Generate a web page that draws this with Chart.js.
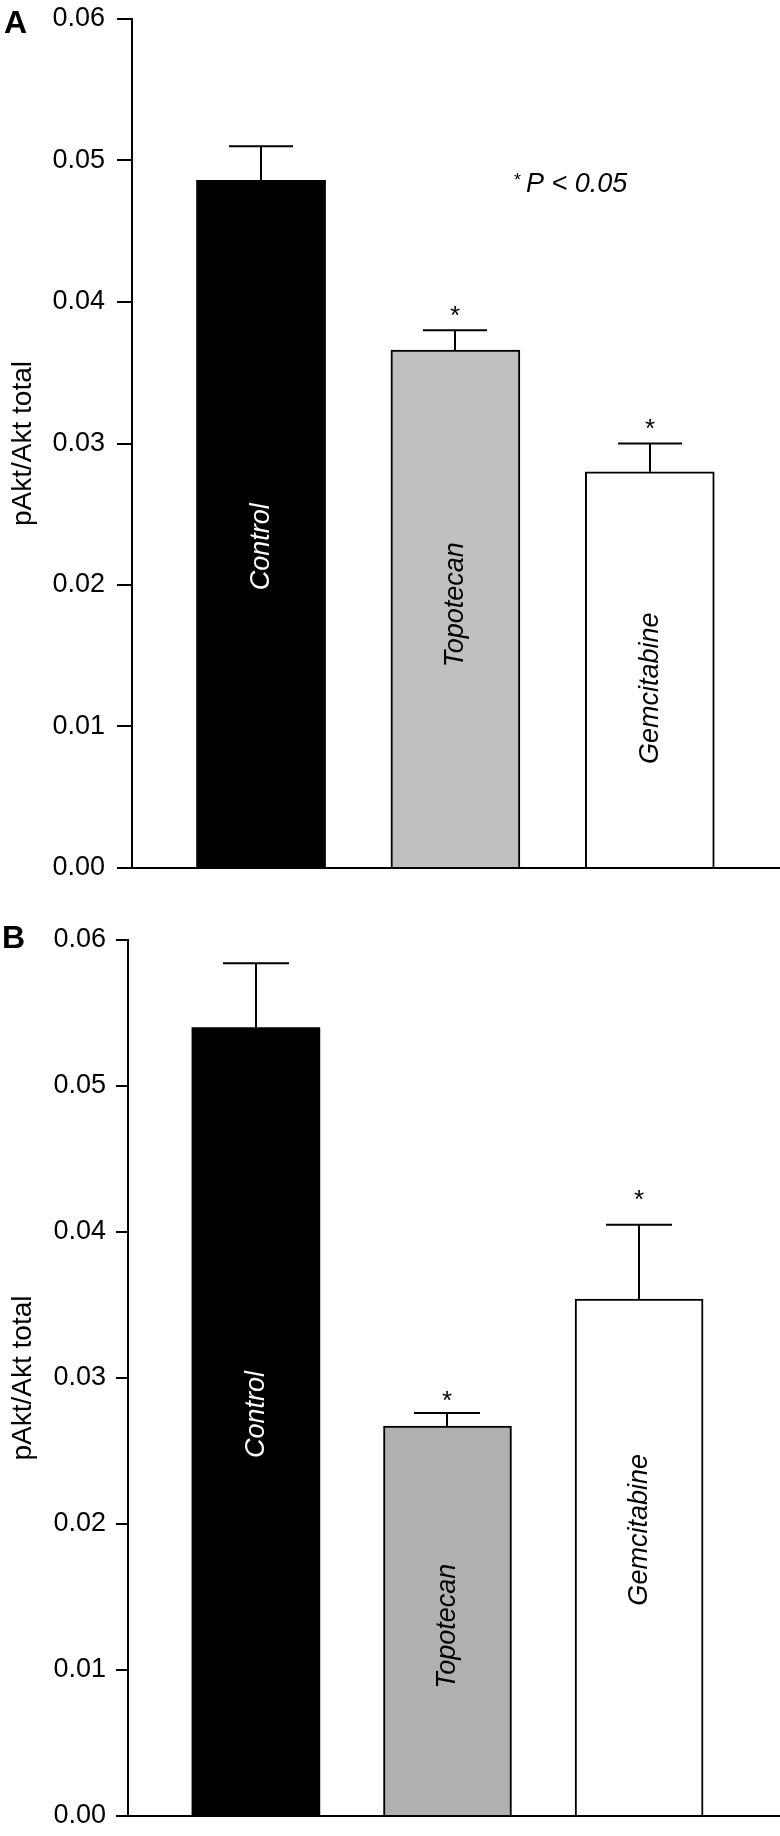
<!DOCTYPE html>
<html><head><meta charset="utf-8">
<script src="https://cdn.jsdelivr.net/npm/chart.js@4/dist/chart.umd.min.js"></script>
<style>
html,body{margin:0;padding:0;background:#fff;}
#wrapA{position:absolute;left:0;top:0;width:780px;height:900px;}
#wrapB{position:absolute;left:0;top:900px;width:780px;height:936px;}
</style></head><body>
<div id="wrapA"><canvas id="cA"></canvas></div>
<div id="wrapB"><canvas id="cB"></canvas></div>
<script>
// ---- data ----
const categories = ['Control', 'Topotecan', 'Gemcitabine'];
const tickLabels = ['0.00', '0.01', '0.02', '0.03', '0.04', '0.05', '0.06'];
const axisTitle = 'pAkt/Akt total';
const valuesA = [0.0486, 0.0366, 0.0280];
const errorsA = [0.0024, 0.0014, 0.0020];
const signifA = [false, true, true];
const valuesB = [0.0540, 0.0267, 0.0354];
const errorsB = [0.0044, 0.0009, 0.0051];
const signifB = [false, true, true];
const noteText = 'P < 0.05';

const FONT = '"Liberation Sans", Arial, Helvetica, sans-serif';

function makePanel(canvasId, p) {
  const plugin = {
    id: 'panelDecor' + canvasId,
    afterDatasetsDraw(chart) {
      const ctx = chart.ctx, xs = chart.scales.x, ys = chart.scales.y;
      ctx.save();
      p.values.forEach((v, i) => {
        const x = Math.round(xs.getPixelForValue(i + 1));
        const yb = ys.getPixelForValue(v);
        const yt = ys.getPixelForValue(v + p.errors[i]);
        ctx.strokeStyle = '#000'; ctx.lineWidth = 2;
        ctx.beginPath();
        ctx.moveTo(x, yb); ctx.lineTo(x, yt);
        ctx.moveTo(x - p.cap, yt); ctx.lineTo(x + p.cap, yt);
        ctx.stroke();
        if (p.signif[i]) {
          ctx.fillStyle = '#000';
          ctx.font = '26px ' + FONT;
          ctx.textAlign = 'center'; ctx.textBaseline = 'alphabetic';
          ctx.fillText('*', x, yt - p.starGap[i] + 14);
        }
        ctx.save();
        ctx.translate(x, ys.getPixelForValue(p.labelPos[i]));
        ctx.rotate(-Math.PI / 2);
        ctx.font = 'italic 27px ' + FONT;
        ctx.textAlign = 'center'; ctx.textBaseline = 'middle';
        ctx.fillStyle = p.labelColors[i];
        ctx.fillText(categories[i], 0, 0);
        ctx.restore();
      });
      ctx.fillStyle = '#000';
      ctx.font = 'bold 32px ' + FONT;
      ctx.textAlign = 'left'; ctx.textBaseline = 'alphabetic';
      ctx.fillText(p.letter, p.letterX, p.letterY);
      if (p.note) {
        ctx.font = '18px ' + FONT;
        ctx.fillText('*', 514, 186);
        ctx.font = 'italic 27px ' + FONT;
        ctx.fillText(noteText, 526, 192);
      }
      ctx.restore();
    }
  };
  return new Chart(document.getElementById(canvasId), {
    type: 'bar',
    data: {
      datasets: [{
        data: p.values.map((v, i) => ({ x: i + 1, y: v })),
        backgroundColor: p.colors,
        borderColor: '#000',
        borderWidth: [0, 2, 2],
        barThickness: p.barW
      }]
    },
    options: {
      responsive: true,
      maintainAspectRatio: false,
      animation: false,
      layout: { padding: { top: p.padTop, bottom: p.padBottom, left: 0, right: 0 } },
      plugins: { legend: { display: false }, tooltip: { enabled: false } },
      scales: {
        x: {
          type: 'linear', min: p.xMin, max: p.xMax, offset: false,
          ticks: { display: false },
          grid: { display: true, drawOnChartArea: false, drawTicks: false, color: 'rgba(0,0,0,0)' },
          border: { display: true, color: '#000', width: 2 },
          afterFit: s => { s.height = 0; s.paddingLeft = 0; s.paddingRight = 0; }
        },
        y: {
          min: 0, max: 0.06,
          ticks: {
            stepSize: 0.01,
            color: '#000',
            font: { family: FONT, size: 27 },
            padding: p.tickPad,
            callback: (v, i) => tickLabels[i]
          },
          grid: { drawOnChartArea: false, drawTicks: true, tickLength: p.tickLen, color: '#000', lineWidth: 2 },
          border: { display: true, color: '#000', width: 2 },
          title: {
            display: true, text: axisTitle, color: '#000',
            font: { family: FONT, size: 28 }, padding: { top: 6, bottom: 0 }
          },
          afterFit: s => { s.width = p.axisX; s.paddingTop = 0; s.paddingBottom = 0; }
        }
      }
    },
    plugins: [plugin]
  });
}

makePanel('cA', {
  values: valuesA, errors: errorsA, signif: signifA,
  colors: ['#000000', '#c0c0c0', '#ffffff'],
  labelColors: ['#ffffff', '#000000', '#000000'],
  labelPos: [0.0227, 0.0186, 0.0127],
  starGap: [0, 20, 21],
  cap: 32, barW: 129,
  xMin: 0.336, xMax: 3.670,
  padTop: 19, padBottom: 32,
  axisX: 132, tickLen: 15, tickPad: 12,
  letter: 'A', letterX: 4, letterY: 33, note: true
});
makePanel('cB', {
  values: valuesB, errors: errorsB, signif: signifB,
  colors: ['#000000', '#b0b0b0', '#ffffff'],
  labelColors: ['#ffffff', '#000000', '#000000'],
  labelPos: [0.0275, 0.0130, 0.0196],
  starGap: [0, 18, 31],
  cap: 33, barW: 128,
  xMin: 0.3325, xMax: 3.7355,
  padTop: 40, padBottom: 20,
  axisX: 128, tickLen: 12, tickPad: 10,
  letter: 'B', letterX: 2, letterY: 48, note: false
});
</script>
</body></html>
